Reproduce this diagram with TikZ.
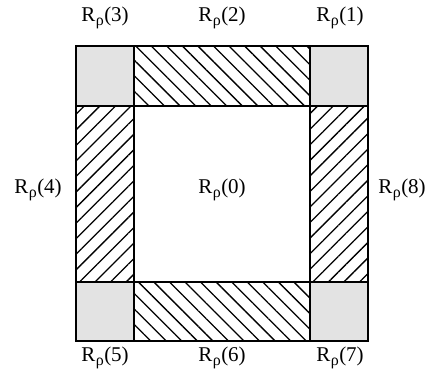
\documentclass[tikz,border=0pt]{standalone}
\usepackage{fontspec}
\setmainfont{Liberation Serif}
\usetikzlibrary{patterns.meta}
\newcommand{\regname}[1]{R\kern0.5pt\raisebox{-0.22em}{\fontsize{16pt}{17pt}\selectfont ρ}\kern0.5pt(#1)}

\begin{document}
\begin{tikzpicture}[
    x=1pt, y=1pt,
    lbl/.style={font=\fontsize{21pt}{23pt}\selectfont, inner sep=0pt},
    corner/.style={fill=gray!22, draw=black, line width=1.1pt},
    hstrip/.style={pattern={Lines[angle=-45,distance=11pt,line width=1.3pt]}, draw=black, line width=1.1pt},
    vstrip/.style={pattern={Lines[angle=45,distance=11pt,line width=1.3pt]}, draw=black, line width=1.1pt}
  ]
    \useasboundingbox (0,0) rectangle (437,377);
    % corners
    \draw[corner] (76,271) rectangle (134,331);
    \draw[corner] (310,271) rectangle (368,331);
    \draw[corner] (76,36) rectangle (134,95);
    \draw[corner] (310,36) rectangle (368,95);
    % strips
    \draw[hstrip] (134,271) rectangle (310,331);
    \draw[hstrip] (134,36) rectangle (310,95);
    \draw[vstrip] (76,95) rectangle (134,271);
    \draw[vstrip] (310,95) rectangle (368,271);
    % labels
    \node[lbl] (r3) at (105,359) {\regname{3}};
    \node[lbl] (r2) at (222,359) {\regname{2}};
    \node[lbl] (r1) at (340,359) {\regname{1}};
    \node[lbl] (r4) at (38,187) {\regname{4}};
    \node[lbl] (r0) at (222,187) {\regname{0}};
    \node[lbl] (r8) at (402,187) {\regname{8}};
    \node[lbl] (r5) at (105,19) {\regname{5}};
    \node[lbl] (r6) at (222,19) {\regname{6}};
    \node[lbl] (r7) at (340,19) {\regname{7}};
  \end{tikzpicture}
\end{document}
